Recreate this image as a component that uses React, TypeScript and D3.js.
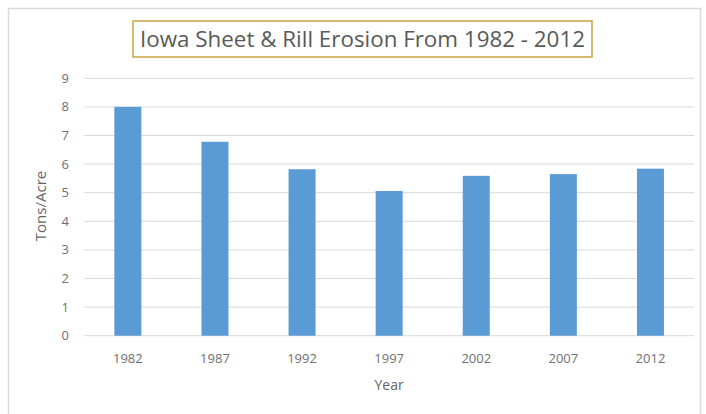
import React from "react";
import * as d3 from "d3";

const years = ["1982", "1987", "1992", "1997", "2002", "2007", "2012"];
const erosion = [8.0, 6.78, 5.82, 5.06, 5.59, 5.65, 5.84];
const yTicks = [0, 1, 2, 3, 4, 5, 6, 7, 8, 9];
const title = "Iowa Sheet & Rill Erosion From 1982 - 2012";
const xTitle = "Year";
const yTitle = "Tons/Acre";

const W = 706;
const H = 414;
const FONT = "'Open Sans', 'Liberation Sans', sans-serif";

export default function App() {
  const left = 84.3;
  const right = 694;
  const top = 78.3;
  const bottom = 335.7;

  const x = d3
    .scaleBand<string>()
    .domain(years)
    .range([left, right])
    .paddingInner(0.69)
    .paddingOuter(0.345);
  const y = d3.scaleLinear().domain([0, 9]).range([bottom, top]);

  return (
    <svg
      width={W}
      height={H}
      style={{ position: "absolute", left: 0, top: 0, background: "#fff" }}
      fontFamily={FONT}
    >
      <rect x={8.5} y={8.5} width={692} height={420} fill="#fff" stroke="#d9d9d9" strokeWidth={1.5} />
      <rect x={133} y={21} width={459} height={36} fill="#fff" stroke="#c9a443" strokeWidth={1.5} />
      <text x={362.5} y={47} textAnchor="middle" fontSize={22} fill="#595959" textLength={445} lengthAdjust="spacingAndGlyphs">
        {title}
      </text>
      {yTicks.map((t) => (
        <g key={t}>
          <line x1={left} x2={right} y1={y(t)} y2={y(t)} stroke="#d9d9d9" strokeWidth={1} />
          <text x={69} y={y(t)} dy="0.35em" textAnchor="end" fontSize={13} fill="#707070">
            {t}
          </text>
        </g>
      ))}
      {years.map((yr, i) => (
        <g key={yr}>
          <rect
            x={x(yr)!}
            y={y(erosion[i])}
            width={x.bandwidth()}
            height={y(0) - y(erosion[i])}
            fill="#5b9bd5"
          />
          <text x={x(yr)! + x.bandwidth() / 2} y={363} textAnchor="middle" fontSize={13} fill="#707070">
            {yr}
          </text>
        </g>
      ))}
      <text x={(left + right) / 2} y={390} textAnchor="middle" fontSize={14} fill="#666">
        {xTitle}
      </text>
      <text
        transform={`translate(46,${(top + bottom) / 2 - 1}) rotate(-90)`}
        textAnchor="middle"
        fontSize={15}
        fill="#666"
      >
        {yTitle}
      </text>
    </svg>
  );
}
